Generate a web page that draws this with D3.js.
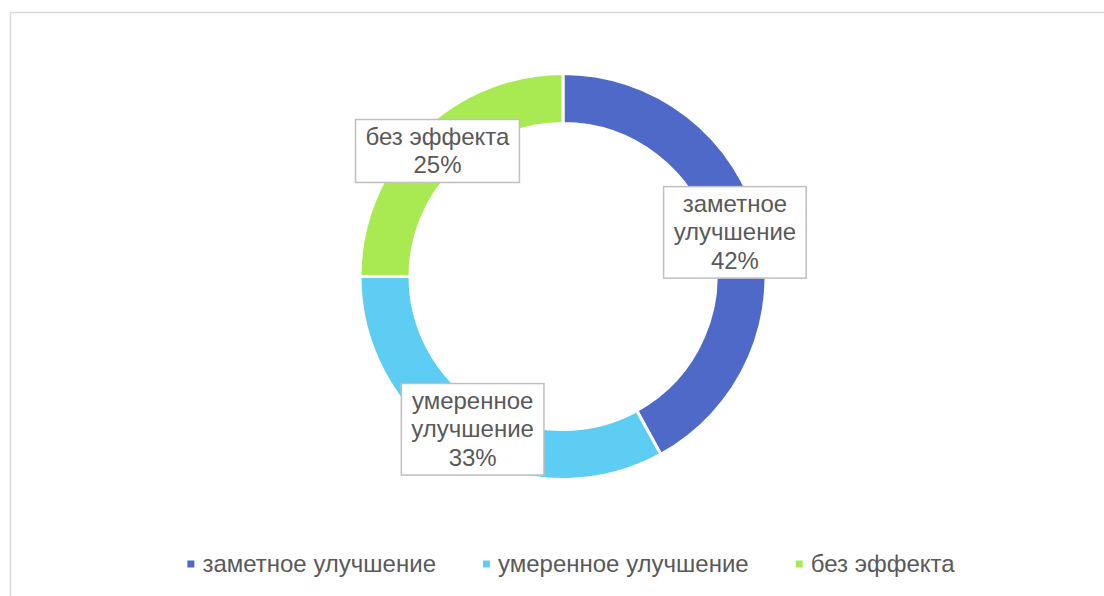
<!DOCTYPE html>
<html>
<head>
<meta charset="utf-8">
<script src="https://cdn.jsdelivr.net/npm/d3@7"></script>
<style>
    body { margin: 0; background: #fff; }
    text { font-family: "Liberation Sans", Arial, sans-serif; fill: #595959; }
</style>
</head>
<body>
<div id="chart"></div>
<script>
var categories = ["заметное улучшение", "умеренное улучшение", "без эффекта"];
var values = [42, 33, 25];
var colors = ["#4F69C9", "#5ECDF3", "#A9EA52"];

var width = 1104, height = 596,
    cx = 563, cy = 276.5,
    outerR = 203, innerR = 153,
    fontSize = 24, lineH = 28.5;

var svg = d3.select("#chart").append("svg")
    .attr("width", width)
    .attr("height", height);

// chart area border
svg.append("rect")
    .attr("x", 10.5).attr("y", 12.5)
    .attr("width", 1200).attr("height", 700)
    .attr("fill", "none")
    .attr("stroke", "#D9D9D9")
    .attr("stroke-width", 1.5);

var data = categories.map(function (c, i) { return { cat: c, value: values[i], color: colors[i] }; });

var pie = d3.pie().sort(null).value(function (d) { return d.value; });
var arc = d3.arc().innerRadius(innerR).outerRadius(outerR);
var labelArc = d3.arc().innerRadius(154).outerRadius(201);

var g = svg.append("g").attr("transform", "translate(" + cx + "," + cy + ")");

g.selectAll("path")
    .data(pie(data))
    .enter()
    .append("path")
    .attr("d", arc)
    .attr("fill", function (d) { return d.data.color; })
    .attr("stroke", "#fff")
    .attr("stroke-width", 3);

var total = d3.sum(values);

// measure helper
var measure = svg.append("text").attr("font-size", fontSize).attr("visibility", "hidden");
function textW(s) { measure.text(s); return measure.node().getComputedTextLength(); }

function wrapLines(s, maxW) {
    if (textW(s) <= maxW) return [s];
    return s.split(" ");
}

pie(data).forEach(function (d) {
    var lines = wrapLines(d.data.cat, 150);
    lines.push(Math.round(d.data.value / total * 100) + "%");
    var c = labelArc.centroid(d);
    var w = d3.max(lines, textW) + 20;
    var h = lines.length * lineH + 6;

    var lg = g.append("g").attr("transform", "translate(" + c[0] + "," + c[1] + ")");
    lg.append("rect")
        .attr("x", -w / 2).attr("y", -h / 2)
        .attr("width", w).attr("height", h)
        .attr("fill", "#fff")
        .attr("stroke", "#BFBFBF")
        .attr("stroke-width", 1.5);
    lg.selectAll("text")
        .data(lines)
        .enter()
        .append("text")
        .attr("text-anchor", "middle")
        .attr("font-size", fontSize)
        .attr("x", 0)
        .attr("y", function (t, i) { return -h / 2 + 3 + lineH * i + lineH / 2 + 8; })
        .text(function (t) { return t; });
});

// legend
var legendY = 564, markerSize = 7, markerGap = 8, itemGap = 47;
var widths = categories.map(function (c) { return markerSize + markerGap + textW(c); });
var totalW = d3.sum(widths) + itemGap * (categories.length - 1);
var lx = 571 - totalW / 2;

var legend = svg.append("g");
categories.forEach(function (c, i) {
    legend.append("rect")
        .attr("x", lx).attr("y", legendY - markerSize / 2)
        .attr("width", markerSize).attr("height", markerSize)
        .attr("fill", colors[i]);
    legend.append("text")
        .attr("x", lx + markerSize + markerGap)
        .attr("y", legendY + 8)
        .attr("font-size", fontSize)
        .text(c);
    lx += widths[i] + itemGap;
});
measure.remove();
</script>
</body>
</html>
